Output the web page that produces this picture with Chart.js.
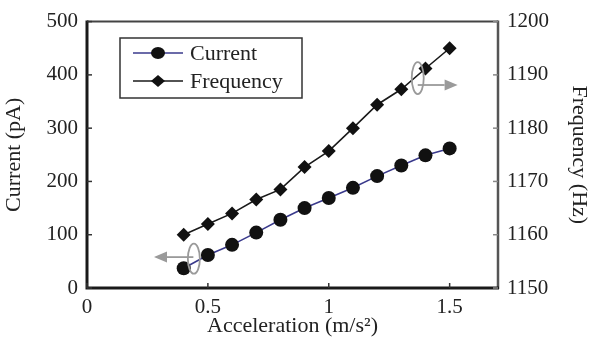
<!DOCTYPE html>
<html>
<head>
<meta charset="utf-8">
<script src="https://cdn.jsdelivr.net/npm/chart.js@4"></script>
<style>
  html, body { margin: 0; padding: 0; background: #fff; }
  #wrap { width: 597px; height: 339px; position: relative; }
</style>
</head>
<body>
<div id="wrap"><canvas id="chart" width="597" height="339"></canvas></div>
<script>
/* data */
const acceleration = [0.4, 0.5, 0.6, 0.7, 0.8, 0.9, 1.0, 1.1, 1.2, 1.3, 1.4, 1.5];
const currentPA = [37, 62, 81, 104, 128, 150, 169, 188, 210, 230, 249, 262];
const frequencyHz = [1160.0, 1162.0, 1164.0, 1166.6, 1168.5, 1172.7, 1175.7, 1180.0, 1184.4, 1187.3, 1191.2, 1195.0];

const xTicks = [0, 0.5, 1, 1.5];
const currentTicks = [0, 100, 200, 300, 400, 500];
const freqTicks = [1150, 1160, 1170, 1180, 1190, 1200];

const FONT = "'Liberation Serif', 'Times New Roman', serif";
const TEXT = "#222";

function pts(ys) {
  return acceleration.map((x, i) => ({ x: x, y: ys[i] }));
}

function fixTicks(list) {
  return (scale) => { scale.ticks = list.map((v) => ({ value: v })); };
}

/* box round the plot + inward ticks */
const framePlugin = {
  id: "frame",
  beforeDatasetsDraw(chart) {
    const { ctx, chartArea: a, scales } = chart;
    ctx.save();
    ctx.lineCap = "butt";
    // top
    ctx.strokeStyle = "#444"; ctx.lineWidth = 2;
    ctx.beginPath(); ctx.moveTo(a.left, a.top); ctx.lineTo(a.right, a.top); ctx.stroke();
    // right
    ctx.strokeStyle = "#555"; ctx.lineWidth = 2.5;
    ctx.beginPath(); ctx.moveTo(a.right, a.top - 1); ctx.lineTo(a.right, a.bottom + 1); ctx.stroke();
    // left + bottom
    ctx.strokeStyle = "#1a1a1a"; ctx.lineWidth = 3;
    ctx.beginPath(); ctx.moveTo(a.left, a.top - 1); ctx.lineTo(a.left, a.bottom); ctx.lineTo(a.right + 1, a.bottom); ctx.stroke();

    ctx.lineWidth = 1.5;
    ctx.strokeStyle = "#333";
    xTicks.forEach((v) => {
      const px = scales.x.getPixelForValue(v);
      ctx.beginPath(); ctx.moveTo(px, a.bottom); ctx.lineTo(px, a.bottom - 5); ctx.stroke();
    });
    currentTicks.forEach((v) => {
      const py = scales.y.getPixelForValue(v);
      ctx.beginPath(); ctx.moveTo(a.left, py); ctx.lineTo(a.left + 5, py); ctx.stroke();
    });
    ctx.strokeStyle = "#888";
    freqTicks.forEach((v) => {
      const py = scales.y1.getPixelForValue(v);
      ctx.beginPath(); ctx.moveTo(a.right, py); ctx.lineTo(a.right - 5, py); ctx.stroke();
    });
    ctx.restore();
  },
};

/* grey loops and arrows telling which axis a curve uses */
function drawPointer(ctx, cx, cy, rx, ry, ax, ay, tipX) {
  ctx.save();
  ctx.strokeStyle = "#9a9a9a";
  ctx.fillStyle = "#9a9a9a";
  ctx.lineWidth = 1.8;
  ctx.beginPath();
  ctx.ellipse(cx, cy, rx, ry, 0, 0, Math.PI * 2);
  ctx.stroke();
  const dir = tipX > ax ? 1 : -1;
  const head = 13;
  ctx.beginPath(); ctx.moveTo(ax, ay); ctx.lineTo(tipX - dir * head, ay); ctx.stroke();
  ctx.beginPath();
  ctx.moveTo(tipX, ay);
  ctx.lineTo(tipX - dir * head, ay - 5.5);
  ctx.lineTo(tipX - dir * head, ay + 5.5);
  ctx.closePath();
  ctx.fill();
  ctx.restore();
}

const pointerPlugin = {
  id: "pointers",
  afterDatasetsDraw(chart) {
    const { ctx, scales } = chart;
    const x = scales.x, y = scales.y, y1 = scales.y1;
    drawPointer(ctx,
      x.getPixelForValue(0.442), y.getPixelForValue(55), 6, 15,
      x.getPixelForValue(0.44), y.getPixelForValue(58), x.getPixelForValue(0.277));
    drawPointer(ctx,
      x.getPixelForValue(1.368), y1.getPixelForValue(1189.4), 6, 16,
      x.getPixelForValue(1.368), y1.getPixelForValue(1188.1), x.getPixelForValue(1.533));
  },
};

/* boxed legend inside the plot */
const legendPlugin = {
  id: "boxLegend",
  afterDraw(chart) {
    const { ctx } = chart;
    const box = { left: 120, top: 38, right: 302, bottom: 98 };
    ctx.save();
    ctx.fillStyle = "#fff";
    ctx.fillRect(box.left, box.top, box.right - box.left, box.bottom - box.top);
    ctx.strokeStyle = "#333";
    ctx.lineWidth = 1.5;
    ctx.strokeRect(box.left, box.top, box.right - box.left, box.bottom - box.top);
    const rows = [53, 81];
    chart.data.datasets.slice().reverse().forEach((ds, i) => {
      const yy = rows[i];
      ctx.strokeStyle = ds.borderColor;
      ctx.lineWidth = 1.5;
      ctx.beginPath(); ctx.moveTo(133, yy); ctx.lineTo(183, yy); ctx.stroke();
      ctx.fillStyle = ds.pointBackgroundColor;
      ctx.beginPath();
      if (ds.pointStyle === "circle") {
        ctx.ellipse(158, yy, 7, 6, 0, 0, Math.PI * 2);
      } else {
        ctx.moveTo(158 - 7, yy); ctx.lineTo(158, yy - 6); ctx.lineTo(158 + 7, yy); ctx.lineTo(158, yy + 6);
        ctx.closePath();
      }
      ctx.fill();
      ctx.fillStyle = TEXT;
      ctx.font = "22px " + FONT;
      ctx.textBaseline = "middle";
      ctx.textAlign = "left";
      ctx.fillText(ds.label, 190, yy + 1);
    });
    ctx.restore();
  },
};

const chart = new Chart(document.getElementById("chart"), {
  type: "line",
  data: {
    datasets: [
      {
        label: "Frequency",
        data: pts(frequencyHz),
        yAxisID: "y1",
        borderColor: "#1a1a1a",
        borderWidth: 1.6,
        pointStyle: "rectRot",
        pointRadius: 7,
        pointBackgroundColor: "#111",
        pointBorderColor: "#111",
        pointBorderWidth: 0,
        tension: 0,
      },
      {
        label: "Current",
        data: pts(currentPA),
        yAxisID: "y",
        borderColor: "#3a3a8c",
        borderWidth: 1.6,
        pointStyle: "circle",
        pointRadius: 7,
        pointBackgroundColor: "#111",
        pointBorderColor: "#111",
        pointBorderWidth: 0,
        tension: 0,
      },
    ],
  },
  options: {
    responsive: false,
    animation: false,
    events: [],
    layout: { padding: { top: 14, left: 0, right: 0, bottom: 0 } },
    plugins: { legend: { display: false }, tooltip: { enabled: false } },
    scales: {
      x: {
        type: "linear",
        min: 0,
        max: 1.7,
        afterBuildTicks: fixTicks(xTicks),
        afterFit: (s) => { s.height = 51; },
        grid: { display: false, drawTicks: false },
        border: { display: false },
        ticks: {
          padding: 7,
          color: TEXT,
          font: { family: FONT, size: 21 },
          callback: (v) => String(v),
        },
        title: {
          display: true,
          text: "Acceleration (m/s²)",
          color: TEXT,
          font: { family: FONT, size: 22 },
          padding: { top: 0, bottom: 0 },
        },
      },
      y: {
        position: "left",
        min: 0,
        max: 500,
        afterBuildTicks: fixTicks(currentTicks),
        afterFit: (s) => { s.width = 87; },
        grid: { display: false, drawTicks: false },
        border: { display: false },
        ticks: { padding: 9, color: TEXT, font: { family: FONT, size: 21 }, callback: (v) => String(v) },
        title: {
          display: true,
          text: "Current (pA)",
          color: TEXT,
          font: { family: FONT, size: 22 },
          padding: { top: 1, bottom: 0 },
        },
      },
      y1: {
        position: "right",
        min: 1150,
        max: 1200,
        afterBuildTicks: fixTicks(freqTicks),
        afterFit: (s) => { s.width = 99; },
        grid: { display: false, drawTicks: false },
        border: { display: false },
        ticks: { padding: 9, color: TEXT, font: { family: FONT, size: 21 }, callback: (v) => String(v) },
        title: {
          display: true,
          text: "Frequency (Hz)",
          color: TEXT,
          font: { family: FONT, size: 22 },
          padding: { top: 5, bottom: 0 },
        },
      },
    },
  },
  plugins: [framePlugin, pointerPlugin, legendPlugin],
});
</script>
</body>
</html>
